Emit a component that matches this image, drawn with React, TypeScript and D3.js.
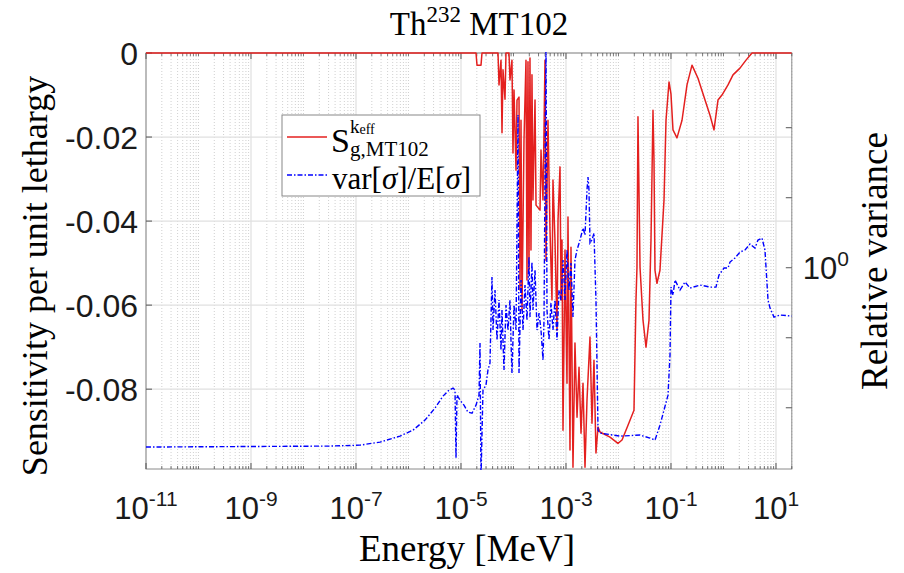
import React from "react";
import * as d3 from "d3";

// ---------- data (energy given as log10 of MeV) ----------
const redLogE = [
  -11, -4.714, -4.695, -4.619, -4.6, -4.295, -4.276, -4.238, -4.219, -4.2, -4.162, -4.143, -4.086, -4.067,
  -4.029, -4.01, -3.99, -3.952, -3.933, -3.895, -3.876, -3.857, -3.838, -3.8, -3.762, -3.743, -3.724, -3.705,
  -3.686, -3.667, -3.648, -3.629, -3.59, -3.571, -3.495, -3.476, -3.438, -3.4, -3.381, -3.343, -3.305, -3.267,
  -3.248, -3.21, -3.171, -3.152, -3.114, -3.095, -3.076, -3.057, -3.019, -2.981, -2.962, -2.924, -2.905, -2.867,
  -2.829, -2.79, -2.752, -2.714, -2.676, -2.638, -2.6, -2.543, -2.505, -2.467, -2.429, -2.39, -2.352, -2.162,
  -2.01, -1.933, -1.819, -1.705, -1.667, -1.648, -1.629, -1.59, -1.533, -1.476, -1.419, -1.381, -1.343, -1.324,
  -1.305, -1.267, -1.21, -1.133, -1.095, -1.038, -1.0, -0.962, -0.886, -0.79, -0.695, -0.6, -0.486, -0.352,
  -0.257, -0.181, -0.105, -0.029, 0.086, 0.181, 0.314, 0.429, 0.543, 1.301,
];
const redSens = [
  0, 0, -0.0029, -0.0029, 0, 0, -0.0076, -0.0017, -0.019, -0.004, -0.011, 0, 0, -0.0064,
  -0.0017, -0.0238, -0.0088, -0.0279, -0.0112, -0.0105, -0.0564, -0.016, -0.0612, -0.0207, -0.0017, -0.054, -0.0021, -0.0517,
  -0.0012, -0.0469, -0.0052, -0.035, -0.0112, -0.0362, -0.0374, -0.0231, -0.035, -0.0017, -0.0493, -0.016, -0.0421, -0.0588,
  -0.0302, -0.0445, -0.066, -0.0398, -0.0271, -0.0588, -0.0445, -0.0898, -0.0469, -0.0786, -0.039, -0.0945, -0.0462, -0.0986,
  -0.069, -0.0867, -0.0748, -0.0905, -0.0786, -0.0986, -0.0826, -0.0676, -0.0881, -0.0731, -0.0952, -0.089, -0.0902, -0.0914,
  -0.0929, -0.0921, -0.0886, -0.085, -0.0588, -0.051, -0.0152, -0.051, -0.0636, -0.07, -0.0636, -0.0445, -0.0136, -0.0255,
  -0.0517, -0.0548, -0.0517, -0.035, -0.016, -0.0069, -0.0098, -0.0183, -0.0202, -0.016, -0.0076, -0.0029, -0.006, -0.0112,
  -0.0148, -0.0183, -0.0112, -0.01, -0.0076, -0.0052, -0.0036, -0.0017, 0, 0,
];

const blueLogE = [
  -11, -7.495, -6.924, -6.543, -6.162, -5.914, -5.686, -5.495, -5.343, -5.229, -5.152, -5.114, -5.095, -5.076,
  -5.019, -4.943, -4.867, -4.79, -4.714, -4.657, -4.638, -4.619, -4.581, -4.524, -4.486, -4.448, -4.41, -4.39,
  -4.352, -4.314, -4.276, -4.238, -4.219, -4.181, -4.143, -4.105, -4.067, -4.048, -4.029, -3.99, -3.952, -3.914,
  -3.895, -3.857, -3.819, -3.781, -3.743, -3.705, -3.686, -3.648, -3.629, -3.59, -3.552, -3.514, -3.476, -3.438,
  -3.419, -3.381, -3.362, -3.324, -3.286, -3.248, -3.21, -3.171, -3.133, -3.095, -3.057, -3.019, -2.981, -2.943,
  -2.905, -2.867, -2.829, -2.79, -2.733, -2.676, -2.638, -2.6, -2.581, -2.562, -2.543, -2.505, -2.467, -2.429,
  -2.39, -2.352, -1.971, -1.59, -1.4, -1.305, -1.21, -1.057, -1.019, -1.0, -0.962, -0.924, -0.829, -0.733,
  -0.638, -0.448, -0.257, -0.143, -0.086, 0.01, 0.086, 0.124, 0.219, 0.314, 0.41, 0.505, 0.6, 0.657,
  0.733, 0.79, 0.848, 0.886, 0.962, 1.076, 1.301,
];
const blueVar = [
  0.5545, 0.5563, 0.558, 0.5636, 0.5749, 0.5862, 0.6059, 0.6303, 0.6556, 0.6687, 0.6731, 0.6687, 0.5349, 0.6577,
  0.6471, 0.6364, 0.6219, 0.6198, 0.6364, 0.6577, 0.7805, 0.5, 0.6687, 0.6799, 0.7144, 0.731, 0.9699, 0.8147,
  0.9292, 0.7883, 0.8994, 0.7629, 0.8701, 0.7144, 0.8845, 0.8147, 0.8994, 0.7883, 0.7074, 0.8845, 0.8147, 1.6526,
  0.7074, 0.9603, 0.8147, 0.9447, 0.8419, 1.0358, 0.8503, 1.0189, 0.8701, 0.9924, 0.8147, 0.8616, 0.8147, 0.7381,
  0.8419, 2.115, 0.8701, 0.7883, 0.8905, 0.8147, 0.8994, 0.7883, 0.9292, 0.8994, 1.0256, 0.8994, 1.06, 0.9292,
  1.0155, 0.8503, 1.0256, 1.06, 1.0955, 1.1394, 1.1135, 1.2912, 1.3477, 1.2912, 1.0846, 1.0955, 1.1209, 0.8994,
  0.5862, 0.5805, 0.5749, 0.5768, 0.5711, 0.5674, 0.5959, 0.6577, 0.7503, 0.9384, 0.9141, 0.9603, 0.9292, 0.9541,
  0.9354, 0.9447, 0.9384, 0.9384, 0.9763, 0.999, 0.999, 1.0189, 1.0325, 1.0529, 1.06, 1.0812, 1.0669, 1.0955,
  1.1026, 1.06, 0.8994, 0.8757, 0.8503, 0.8561, 0.853,
];

const xTickExps = [-11, -9, -7, -5, -3, -1, 1];
const yLeftTicks = [0, -0.02, -0.04, -0.06, -0.08];
const yLeftLabels = ["0", "-0.02", "-0.04", "-0.06", "-0.08"];
const yRightTickExps = [-0.2, -0.1, 0, 0.1, 0.2];

// ---------- layout ----------
const W = 904, H = 573;
const L = 146, R = 791.8, T = 53, B = 469;

const x = d3.scaleLog().domain([1e-11, 20]).range([L, R]);
const yL = d3.scaleLinear().domain([-0.099, 0]).range([B, T]);
const yR = d3.scaleLog().domain([0.5159, 2.0263]).range([B, T]);

const sans = "'Liberation Sans', Arial, Helvetica, sans-serif";
const serif = "'Liberation Serif', 'Times New Roman', serif";

export default function App() {
  const redData = redLogE.map((e, i) => [Math.pow(10, e), redSens[i]] as [number, number]);
  const blueData = blueLogE.map((e, i) => [Math.pow(10, e), blueVar[i]] as [number, number]);
  const redPath = d3.line<[number, number]>().x((d) => x(d[0])).y((d) => yL(d[1]))(redData) || "";
  const bluePath = d3.line<[number, number]>().x((d) => x(d[0])).y((d) => yR(d[1]))(blueData) || "";

  const majors: number[] = [];
  const minors: number[] = [];
  for (let n = -11; n <= 1; n++) {
    const base = Math.pow(10, n);
    if ((n + 11) % 2 === 0) majors.push(base);
    else minors.push(base);
    for (let k = 2; k <= 9; k++) {
      const v = k * base;
      if (v <= 20) minors.push(v);
    }
  }

  return (
    <svg width={W} height={H} style={{ position: "absolute", left: 0, top: 0, background: "#fff" }}>
      <defs>
        <clipPath id="plotclip">
          <rect x={L} y={T - 1} width={R - L} height={B - T + 2} />
        </clipPath>
      </defs>
      {/* minor grid */}
      {minors.map((v, i) => (
        <line key={"mg" + i} x1={x(v)} x2={x(v)} y1={T} y2={B} stroke="#c4c4c4" strokeWidth={0.8} strokeDasharray="1,2" />
      ))}
      {/* major grid */}
      {majors.map((v, i) => (
        <line key={"Mg" + i} x1={x(v)} x2={x(v)} y1={T} y2={B} stroke="#e0e0e0" strokeWidth={1.2} />
      ))}
      {yLeftTicks.map((v, i) => (
        <line key={"hg" + i} x1={L} x2={R} y1={yL(v)} y2={yL(v)} stroke="#e0e0e0" strokeWidth={1.2} />
      ))}
      {/* axes box */}
      <rect x={L} y={T} width={R - L} height={B - T} fill="none" stroke="#8a8a8a" strokeWidth={1} />
      {/* bottom/top ticks */}
      {majors.map((v, i) => (
        <g key={"bt" + i}>
          <line x1={x(v)} x2={x(v)} y1={B} y2={B - 6} stroke="#555" />
          <line x1={x(v)} x2={x(v)} y1={T} y2={T + 6} stroke="#555" />
        </g>
      ))}
      {minors.map((v, i) => (
        <g key={"bmt" + i}>
          <line x1={x(v)} x2={x(v)} y1={B} y2={B - 3} stroke="#555" strokeWidth={0.8} />
          <line x1={x(v)} x2={x(v)} y1={T} y2={T + 3} stroke="#555" strokeWidth={0.8} />
        </g>
      ))}
      {/* left ticks */}
      {yLeftTicks.map((v, i) => (
        <line key={"lt" + i} x1={L} x2={L + 6} y1={yL(v)} y2={yL(v)} stroke="#555" />
      ))}
      {/* right ticks */}
      {yRightTickExps.map((e, i) => (
        <line key={"rt" + i} x1={R} x2={R - 6} y1={yR(Math.pow(10, e))} y2={yR(Math.pow(10, e))} stroke="#555" />
      ))}

      {/* data */}
      <g clipPath="url(#plotclip)">
        <path d={redPath} fill="none" stroke="#e4201f" strokeWidth={1.5} strokeLinejoin="round" />
        <path d={bluePath} fill="none" stroke="#0000ff" strokeWidth={1.4} strokeDasharray="5,2,1.5,2" />
      </g>

      {/* left tick labels */}
      {yLeftTicks.map((v, i) => (
        <text key={"ltl" + i} x={L - 8} y={yL(v)} dy="0.36em" textAnchor="end" fontFamily={sans} fontSize={32} fill="#1a1a1a">
          {yLeftLabels[i]}
        </text>
      ))}
      {/* x tick labels */}
      {xTickExps.map((e, i) => (
        <text key={"xtl" + i} x={x(Math.pow(10, e))} y={519} textAnchor="middle" fontFamily={sans} fontSize={31} fill="#1a1a1a">
          10<tspan dy={-13} fontSize={21}>{e}</tspan>
        </text>
      ))}
      {/* right tick label */}
      <text x={R + 11} y={yR(1)} dy="0.36em" fontFamily={sans} fontSize={31} fill="#1a1a1a">
        10<tspan dy={-13} fontSize={21}>0</tspan>
      </text>

      {/* title */}
      <text x={479} y={35} textAnchor="middle" fontFamily={serif} fontSize={33} fill="#000">
        Th<tspan dy={-13} fontSize={23}>232</tspan>
        <tspan dy={13}> MT102</tspan>
      </text>
      {/* axis labels */}
      <text x={467} y={561} textAnchor="middle" fontFamily={serif} fontSize={37} fill="#000">Energy [MeV]</text>
      <text transform={`translate(47,276) rotate(-90)`} textAnchor="middle" fontFamily={serif} fontSize={36} fill="#000">
        Sensitivity per unit lethargy
      </text>
      <text transform={`translate(887,261) rotate(-90)`} textAnchor="middle" fontFamily={serif} fontSize={37} fill="#000">
        Relative variance
      </text>

      {/* legend */}
      <rect x={282} y={115} width={198} height={81} fill="#fff" stroke="#888" strokeWidth={1} />
      <line x1={287} x2={327} y1={137} y2={137} stroke="#e4201f" strokeWidth={1.5} />
      <line x1={287} x2={327} y1={175} y2={175} stroke="#0000ff" strokeWidth={1.4} strokeDasharray="5,2,1.5,2" />
      <text x={331} y={152} fontFamily={serif} fontSize={34} fill="#000">
        S<tspan dy={-19} fontSize={19}>k</tspan><tspan dy={1} fontSize={14}>eff</tspan>
        <tspan x={350} y={156} fontSize={21}>g,MT102</tspan>
      </text>
      <text x={332} y={189} fontFamily={serif} fontSize={31} fill="#000">
        var[<tspan fontStyle="italic">σ</tspan>]/E[<tspan fontStyle="italic">σ</tspan>]
      </text>
    </svg>
  );
}
